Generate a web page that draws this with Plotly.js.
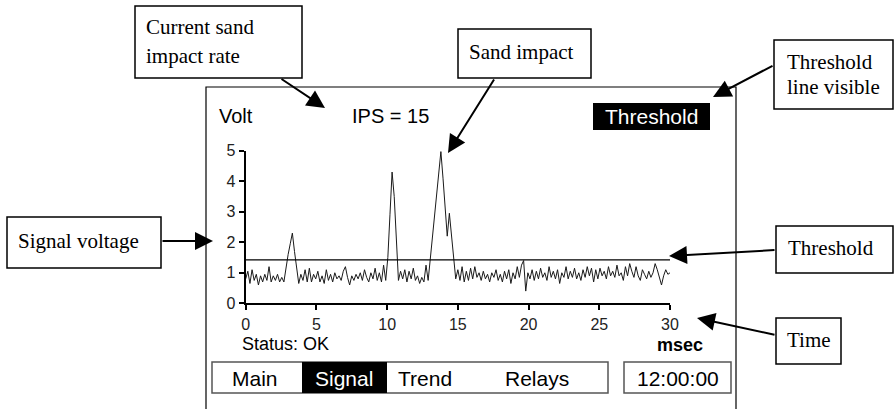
<!DOCTYPE html>
<html>
<head>
<meta charset="utf-8">
<script src="https://cdn.plot.ly/plotly-3.0.1.min.js"></script>
<style>
html,body{margin:0;padding:0;background:#fff;}
#chart{width:895px;height:409px;}
</style>
</head>
<body>
<div id="chart"></div>
<script>
// ---- data ----
const timeStart = 0;        // msec
const timeStep = 0.15;      // msec between samples
const signalVolts = [
  0.8,1.05,0.65,1.1,0.75,0.95,0.6,0.9,0.7,0.95,0.75,1.2,0.7,0.9,0.75,0.95,0.7,0.85,0.7,
  1.2,1.6,1.95,2.3,1.7,1.1,0.65,
  0.95,0.75,1.1,0.7,1.15,0.7,0.95,0.8,1.05,0.7,
  0.9,0.65,1.1,0.75,0.95,0.7,1.0,0.8,0.9,0.75,
  1.05,1.2,0.85,0.6,0.9,0.75,0.95,0.8,1.0,0.75,
  1.1,0.85,0.7,1.0,0.8,1.15,0.75,1.0,0.7,1.25,
  0.75,1.5,2.9,4.3,3.5,2.1,0.75,
  1.05,0.8,1.1,0.7,1.05,0.8,1.15,0.75,0.9,0.65,0.85,0.7,1.25,0.75,
  1.45,2.15,2.85,3.55,4.25,4.97,4.1,3.2,2.2,2.95,2.2,1.5,0.8,
  1.1,0.75,1.2,0.7,1.05,0.75,1.15,0.8,1.2,0.85,
  1.0,0.75,1.05,0.8,0.95,0.7,1.0,0.85,1.1,0.75,
  0.95,0.7,1.05,0.8,1.1,0.65,1.0,0.8,1.2,0.85,
  1.25,1.4,0.4,1.0,0.8,1.1,0.75,1.05,0.8,1.15,
  0.85,1.0,0.75,1.2,0.85,1.05,0.8,1.1,0.65,1.0,
  0.85,1.2,0.8,1.05,0.85,1.15,0.8,1.0,0.75,1.1,
  0.85,1.2,0.9,1.15,0.7,1.1,0.8,1.15,0.9,1.05,
  0.8,1.2,0.9,1.05,0.85,1.25,0.9,1.0,0.75,1.2,
  0.9,1.3,1.05,0.85,1.2,0.9,0.75,1.1,0.95,0.8,
  1.05,0.85,1.0,1.3,1.1,0.85,0.6,0.9,1.1,0.95,
  1.0
];
const thresholdVolts = 1.42;
const xTickVals = [0,5,10,15,20,25,30];
const yTickVals = [0,1,2,3,4,5];
const ipsValue = 15;
const menuItems = ['Main','Signal','Trend','Relays'];
const clockText = '12:00:00';
const statusText = 'Status: OK';

// ---- helpers (pixel -> paper) ----
const W = 895, H = 409;
const fx = p => p / W;
const fy = p => 1 - p / H;
const serif = 'Liberation Serif, Times New Roman, serif';
const sans = 'Liberation Sans, Arial, sans-serif';

const trace = {
  type: 'scatter', mode: 'lines',
  x0: timeStart, dx: timeStep, y: signalVolts,
  line: {color: '#1a1a1a', width: 1},
  hoverinfo: 'skip'
};

const shapes = [];
const annotations = [];

function box(x0, y0, x1, y1, opt) {
  opt = opt || {};
  shapes.push({type: 'rect', xref: 'paper', yref: 'paper',
    x0: fx(x0), x1: fx(x1), y0: fy(y1), y1: fy(y0),
    line: {color: opt.line || '#000', width: opt.lw === undefined ? 1.5 : opt.lw},
    fillcolor: opt.fill || 'rgba(0,0,0,0)', layer: opt.layer || 'above'});
}
function txt(text, x, y, opt) {
  opt = opt || {};
  annotations.push({xref: 'paper', yref: 'paper', x: fx(x), y: fy(y), text: text,
    showarrow: false, xanchor: opt.xa || 'left', yanchor: 'middle',
    font: {family: opt.family || serif, size: opt.size || 21, color: opt.color || '#000',
           weight: opt.bold ? 'bold' : 'normal'}});
}
function arrow(tx, ty, hx, hy) {
  annotations.push({xref: 'paper', yref: 'paper', x: fx(hx), y: fy(hy), text: '',
    showarrow: true, axref: 'pixel', ayref: 'pixel', ax: tx - hx, ay: ty - hy,
    arrowhead: 2, arrowsize: 1.8, arrowwidth: 2, arrowcolor: '#000', standoff: 0});
}

// screen frame
box(206, 87, 736, 430, {lw: 1.2, layer: 'below'});
// threshold line
shapes.push({type: 'line', xref: 'x', yref: 'y', x0: 0, x1: 30, y0: thresholdVolts, y1: thresholdVolts,
  line: {color: '#000', width: 1.2}});
// screen header
txt('Volt', 217, 116, {family: sans, size: 20});
txt('IPS = ' + ipsValue, 350, 116, {family: sans, size: 20});
box(593, 103, 710, 130, {fill: '#000', lw: 0});
txt('Threshold', 651.5, 116.5, {family: sans, size: 21, color: '#fff', xa: 'center'});
// status / units
txt(statusText, 240, 344, {family: sans, size: 18});
txt('msec', 680, 345, {family: sans, size: 18, bold: true, xa: 'center'});
// menu
box(212, 362, 608, 393, {line: '#555', lw: 1.5});
box(302, 362, 387, 393, {fill: '#000', lw: 0});
const menuCenters = [255, 344, 425, 537];
menuItems.forEach((m, i) => {
  txt(m, menuCenters[i], 378, {family: sans, size: 21, xa: 'center', color: m === 'Signal' ? '#fff' : '#000'});
});
box(624, 362, 731, 393, {line: '#555', lw: 1.5});
txt(clockText, 677.5, 378, {family: sans, size: 21, xa: 'center'});

// callout boxes
box(135, 6, 302, 78, {fill: '#fff'});
txt('Current sand', 144, 27, {});
txt('impact rate', 144, 56, {});
box(458, 29, 591, 78, {fill: '#fff'});
txt('Sand impact', 467, 52, {});
box(774, 40, 893, 109, {fill: '#fff'});
txt('Threshold', 785, 62, {});
txt('line visible', 785, 87, {});
box(7, 217, 161, 268, {fill: '#fff'});
txt('Signal voltage', 16, 241, {});
box(776, 226, 893, 273, {fill: '#fff'});
txt('Threshold', 786, 248, {});
box(776, 318, 841, 364, {fill: '#fff'});
txt('Time', 785, 340, {});

// arrows
arrow(280, 78, 325, 108);
arrow(495, 78, 448, 153);
arrow(774, 65, 713, 97);
arrow(161, 241, 213, 241);
arrow(776, 250, 669, 256);
arrow(776, 335, 697, 318);

const axisCommon = {
  showgrid: false, zeroline: false, showline: true, linecolor: '#000', linewidth: 2,
  ticks: 'outside', ticklen: 5, tickwidth: 2, tickcolor: '#000',
  tickfont: {family: sans, size: 16, color: '#222'}, fixedrange: true
};

const layout = {
  width: W, height: H,
  margin: {l: 0, r: 0, t: 0, b: 0},
  paper_bgcolor: '#fff', plot_bgcolor: 'rgba(0,0,0,0)',
  showlegend: false,
  xaxis: Object.assign({}, axisCommon, {
    domain: [245.7 / W, 670 / W], range: [0, 30],
    tickvals: xTickVals, ticktext: xTickVals.map(String)
  }),
  yaxis: Object.assign({}, axisCommon, {
    domain: [(H - 303.3) / H, (H - 150.7) / H], range: [0, 5],
    tickvals: yTickVals, ticktext: yTickVals.map(String)
  }),
  shapes: shapes,
  annotations: annotations
};

Plotly.newPlot('chart', [trace], layout, {displayModeBar: false, staticPlot: true});
</script>
</body>
</html>
